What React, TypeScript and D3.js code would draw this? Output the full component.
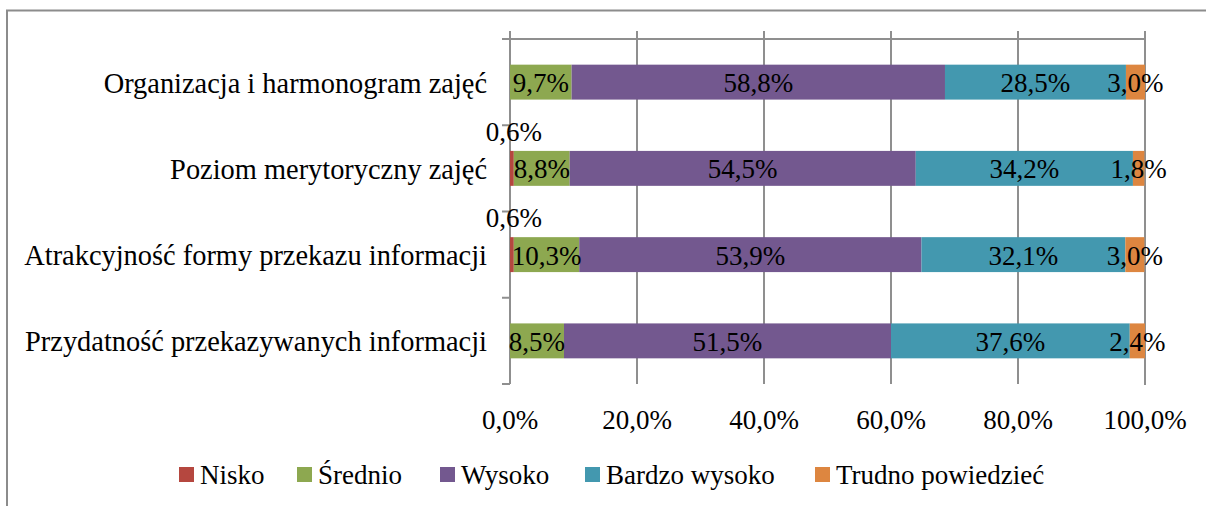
import React from "react";
import * as d3 from "d3";

const categories = [
  "Organizacja i harmonogram zajęć",
  "Poziom merytoryczny zajęć",
  "Atrakcyjność formy przekazu informacji",
  "Przydatność przekazywanych informacji",
];
const seriesNames = ["Nisko", "Średnio", "Wysoko", "Bardzo wysoko", "Trudno powiedzieć"];
const nisko = [0, 0.6, 0.6, 0];
const srednio = [9.7, 8.8, 10.3, 8.5];
const wysoko = [58.8, 54.5, 53.9, 51.5];
const bardzoWysoko = [28.5, 34.2, 32.1, 37.6];
const trudno = [3.0, 1.8, 3.0, 2.4];
const tickValues = [0, 20, 40, 60, 80, 100];
const colors = ["#B5473F", "#8DA850", "#73588F", "#4398AF", "#DD8640"];
const legendX = [179, 297, 440, 585, 815];

const W = 1206;
const H = 506;
const FONT = "'Liberation Serif', 'Times New Roman', serif";

export default function App() {
  const seriesValues = [nisko, srednio, wysoko, bardzoWysoko, trudno];
  const rows = categories.map((c, i) => {
    const r: any = { cat: c };
    seriesNames.forEach((s, j) => (r[s] = seriesValues[j][i]));
    return r;
  });
  const stacked = d3.stack<any>().keys(seriesNames)(rows);

  const x = d3.scaleLinear().domain([0, 100]).range([510, 1145]);
  const y = d3.scaleBand<string>().domain(categories).range([39, 384]).padding(0);
  const bh = y.bandwidth() * 0.405;
  const fmt = (v: number) => d3.format(".1f")(v).replace(".", ",") + "%";
  const [y0, y1] = y.range();
  const bounds = categories.map((c) => y(c) as number).concat([y1]);

  return (
    <svg width={W} height={H} style={{ position: "absolute", left: 0, top: 0, background: "#fff" }} fontFamily={FONT}>
      <rect x={7} y={10.5} width={1210} height={510} fill="#fff" stroke="#8c8c8c" strokeWidth={2} />
      {tickValues.map((t) => (
        <line key={"g" + t} x1={x(t)} x2={x(t)} y1={y0} y2={y1 + (t === 100 ? 1 : 0)} stroke="#8f8f8f" strokeWidth={2} />
      ))}
      <line x1={x(0) - 8} x2={x(100) + 1} y1={y0} y2={y0} stroke="#8f8f8f" strokeWidth={2} />
      {tickValues.map((t) => (
        <line key={"t" + t} x1={x(t)} x2={x(t)} y1={y0 - 8} y2={y0} stroke="#8f8f8f" strokeWidth={2} />
      ))}
      {bounds.map((b, i) => (
        <line key={"c" + i} x1={x(0) - 8} x2={x(0)} y1={b} y2={b} stroke="#8f8f8f" strokeWidth={2} />
      ))}
      {stacked.map((layer, si) =>
        layer.map((d, ci) => {
          const cy = (y(categories[ci]) as number) + y.bandwidth() / 2;
          const w = x(d[1]) - x(d[0]);
          if (w <= 0) return null;
          return (
            <rect key={si + "-" + ci} x={x(d[0])} y={cy - bh / 2} width={w} height={bh} fill={colors[si]} />
          );
        })
      )}
      {stacked.map((layer, si) =>
        layer.map((d, ci) => {
          const v = d[1] - d[0];
          if (v <= 0.001) return null;
          const cy = (y(categories[ci]) as number) + y.bandwidth() / 2;
          const cx = (x(d[0]) + x(d[1])) / 2;
          const above = si === 0;
          return (
            <text
              key={"l" + si + "-" + ci}
              x={above ? cx + 2 : cx}
              y={above ? cy - bh / 2 - 10 : cy + 10}
              textAnchor="middle"
              fontSize={27}
              fill="#000"
            >
              {fmt(seriesValues[si][ci])}
            </text>
          );
        })
      )}
      {categories.map((c) => (
        <text key={c} x={487} y={(y(c) as number) + y.bandwidth() / 2 + 10.5} textAnchor="end" fontSize={28.4} fill="#000">
          {c}
        </text>
      ))}
      {tickValues.map((t) => (
        <text key={"tl" + t} x={x(t)} y={429} textAnchor="middle" fontSize={27} fill="#000">
          {fmt(t)}
        </text>
      ))}
      {seriesNames.map((s, i) => (
        <g key={s}>
          <rect x={legendX[i]} y={467} width={15} height={15} fill={colors[i]} />
          <text x={legendX[i] + 21} y={484} fontSize={27} fill="#000">
            {s}
          </text>
        </g>
      ))}
    </svg>
  );
}
